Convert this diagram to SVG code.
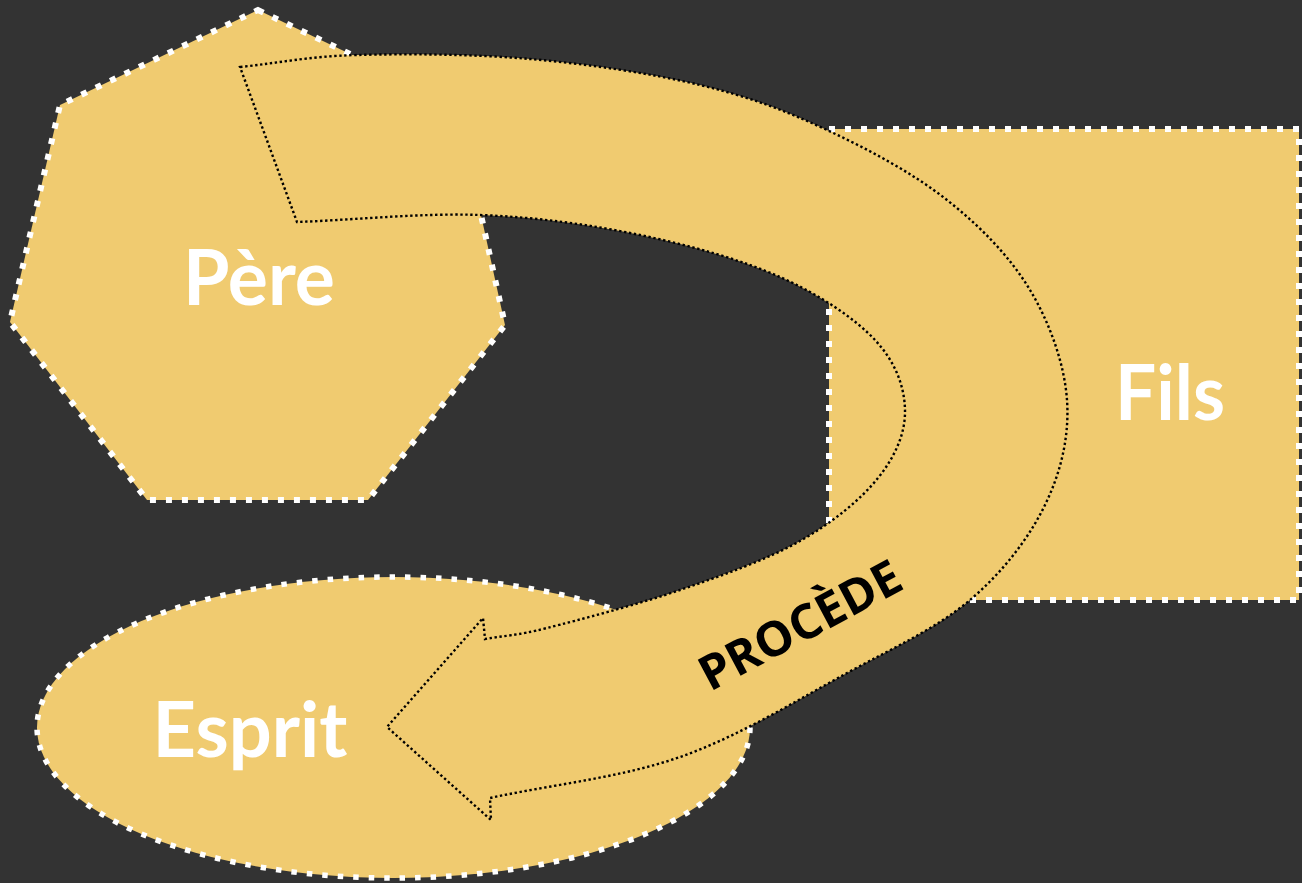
<svg xmlns="http://www.w3.org/2000/svg" width="1302" height="883" viewBox="0 0 1302 883">
<style>
.shape{fill:#F0CB70;stroke:#FFFFFF;stroke-width:6;stroke-dasharray:6 10}
.lbl{fill:#FFFFFF;font-family:Lato,"Open Sans","Liberation Sans",sans-serif;font-weight:bold;font-size:76px;text-anchor:middle}
.arrow{fill:#F0CB70;stroke:#000000;stroke-width:2.4;stroke-dasharray:2.4 2.6;stroke-linejoin:miter}
.alabel{fill:#000000;font-family:"Open Sans",Lato,"Liberation Sans",sans-serif;font-weight:bold;font-size:48px;text-anchor:middle}
</style>
<rect x="0" y="0" width="1302" height="883" fill="#333333"/>
<g id="node-pere">
<polygon class="shape" points="258,10 457,105 505,325 368,500 147,500 10,322 60,105"/>
<text class="lbl" x="259" y="305" textLength="152" lengthAdjust="spacingAndGlyphs">Père</text>
</g>
<g id="node-fils">
<rect class="shape" x="829" y="129" width="470" height="471"/>
<text class="lbl" x="1170" y="420" textLength="110" lengthAdjust="spacingAndGlyphs">Fils</text>
</g>
<g id="node-esprit">
<ellipse class="shape" cx="393.5" cy="727.5" rx="356.5" ry="150.5" style="stroke-width:5.5;stroke-dasharray:5.5 10"/>
<text class="lbl" x="250" y="757" textLength="195" lengthAdjust="spacingAndGlyphs">Esprit</text>
</g>
<g id="connectors">
<path class="arrow" d="M240,67 C279,63 308.7,56.3 357,55 C405.3,53.7 472.8,54 530,59 C587.2,64 650.5,73.2 700,85 C749.5,96.8 785.8,110.8 827,130 C868.2,149.2 913.2,173.3 947,200 C980.8,226.7 1010,256.7 1030,290 C1050,323.3 1064.5,364.2 1067,400 C1069.5,435.8 1061.2,471.7 1045,505 C1028.8,538.3 1003,572 970,600 C937,628 895.3,646.8 847,673 C798.7,699.2 739.5,736.2 680,757 C620.5,777.8 553.3,784.3 490,798 L491,820 L387,727 L483,618 L485,639 C505.7,635.3 514.5,636.2 547,628 C579.5,619.8 637.8,604.5 680,590 C722.2,575.5 767,559.7 800,541 C833,522.3 860.5,499.8 878,478 C895.5,456.2 905.5,433 905,410 C904.5,387 895.8,362.2 875,340 C854.2,317.8 819.2,294.5 780,277 C740.8,259.5 690,245.3 640,235 C590,224.7 537.2,217.2 480,215 C422.8,212.8 358,219.7 297,222 Z"/>
<text class="alabel" x="808" y="640" transform="rotate(-28 808 640)" textLength="222" lengthAdjust="spacingAndGlyphs">PROCÈDE</text>
</g>
</svg>
